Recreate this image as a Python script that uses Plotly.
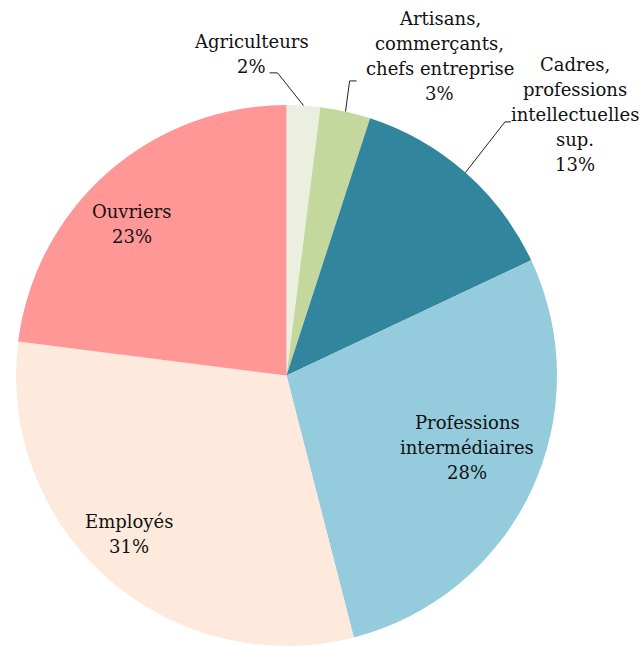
import math
import plotly.graph_objects as go

# Répartition par catégorie socioprofessionnelle (en %)
categories = [
    "Agriculteurs",
    "Artisans,<br>commerçants,<br>chefs entreprise",
    "Cadres,<br>professions<br>intellectuelles<br>sup.",
    "Professions<br>intermédiaires",
    "Employés",
    "Ouvriers",
]
shares = [2, 3, 13, 28, 31, 23]
colors = ["#EBEFE0", "#C4D89E", "#31869D", "#95CCDD", "#FDEADC", "#FF9797"]

# Label placement: polar position (degrees clockwise from 12 o'clock, radius factor)
label_polar = [(353.8, 1.196), (25.6, 1.31), (47.9, 1.437),
               (111.7, 0.72), (224.8, 0.825), (314.4, 0.80)]
# Leader lines for outside labels: elbow / end offsets (px) from label centre
leaders = {0: ((26, 19), (18, 19)), 1: ((-90, 25), (-83, 25)), 2: ((-70, 7), (-64, 7))}

W, H = 642, 646
M = dict(l=16, r=85, t=105, b=0)
pw, ph = W - M["l"] - M["r"], H - M["t"] - M["b"]
cx, cy = M["l"] + pw / 2, M["t"] + ph / 2
R = min(pw, ph) / 2
FONT = "DejaVu Serif"
FS = 18
LINE_H = 25


def to_paper(px, py):
    return (px - M["l"]) / pw, 1 - (py - M["t"]) / ph


def polar(angle_deg, rad):
    a = math.radians(angle_deg)
    return cx + rad * math.sin(a), cy - rad * math.cos(a)


fig = go.Figure(go.Pie(
    labels=[c.replace("<br>", " ") for c in categories],
    values=shares,
    marker=dict(colors=colors, line=dict(width=0)),
    sort=False,
    direction="clockwise",
    rotation=0,
    textinfo="none",
    hoverinfo="label+percent",
    showlegend=False,
))

total = sum(shares)
annotations, shapes = [], []
cum = 0
for i, (cat, v) in enumerate(zip(categories, shares)):
    mid = (cum + v / 2) / total * 360
    cum += v
    ang, rf = label_polar[i]
    lx, ly = polar(ang, rf * R)
    lines = cat.split("<br>") + [f"{round(v / total * 100)}%"]
    n = len(lines)
    for k, t in enumerate(lines):
        x, y = to_paper(lx, ly + (k - (n - 1) / 2) * LINE_H)
        annotations.append(dict(
            x=x, y=y, xref="paper", yref="paper", text=t, showarrow=False,
            xanchor="center", yanchor="middle",
            font=dict(family=FONT, size=FS, color="#111111"),
        ))
    if i in leaders:
        (ex, ey), (hx, hy) = leaders[i]
        sx, sy = polar(mid, R)
        p0 = to_paper(sx, sy)
        p1 = to_paper(lx + ex, ly + ey)
        p2 = to_paper(lx + hx, ly + hy)
        shapes.append(dict(
            type="path", xref="paper", yref="paper",
            path=f"M {p0[0]},{p0[1]} L {p1[0]},{p1[1]} L {p2[0]},{p2[1]}",
            line=dict(color="#222222", width=1),
        ))

fig.update_layout(
    width=W, height=H,
    margin=M,
    paper_bgcolor="white",
    plot_bgcolor="white",
    annotations=annotations,
    shapes=shapes,
)

fig.write_html("out.html")
